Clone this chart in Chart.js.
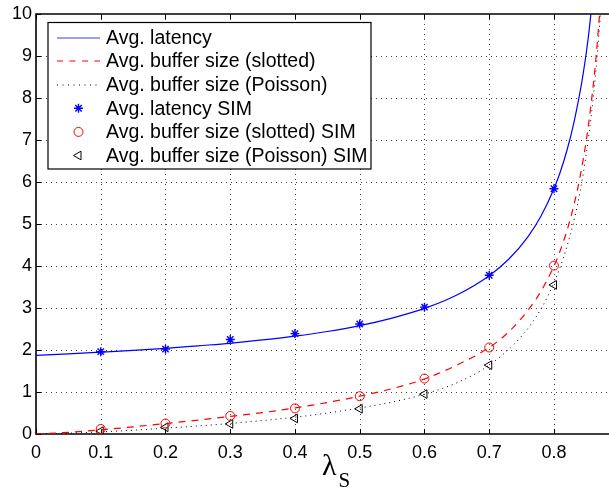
<!DOCTYPE html>
<html><head><meta charset="utf-8">
<script src="https://cdn.jsdelivr.net/npm/chart.js@4.4.0/dist/chart.umd.min.js"></script>
<style>html,body{margin:0;padding:0;background:#fff;overflow:hidden;}</style>
</head><body>
<canvas id="c" width="609" height="493"></canvas>
<script>
// ---- data ----
const latX = [0, 0.05, 0.1, 0.15, 0.2, 0.25, 0.3, 0.35, 0.4, 0.45, 0.5, 0.55, 0.6, 0.65, 0.7, 0.73, 0.76, 0.78, 0.8, 0.81, 0.82, 0.83, 0.84, 0.845, 0.85, 0.854, 0.857];
const latY = [1.87, 1.91, 1.95, 1.99, 2.04, 2.10, 2.16, 2.24, 2.33, 2.44, 2.58, 2.76, 2.99, 3.31, 3.77, 4.16, 4.70, 5.19, 5.84, 6.25, 6.75, 7.36, 8.12, 8.57, 9.09, 9.57, 10.0];
const sloX = [0, 0.05, 0.1, 0.15, 0.2, 0.25, 0.3, 0.35, 0.4, 0.45, 0.5, 0.55, 0.6, 0.65, 0.7, 0.73, 0.76, 0.78, 0.8, 0.81, 0.82, 0.83, 0.84, 0.85, 0.86, 0.865, 0.8705];
const sloY = [0, 0.04, 0.1, 0.17, 0.25, 0.33, 0.42, 0.51, 0.62, 0.75, 0.9, 1.08, 1.31, 1.64, 2.06, 2.43, 2.95, 3.40, 4.0, 4.38, 4.84, 5.40, 6.10, 7.0, 8.21, 8.97, 10.0];
const poiX = [0, 0.05, 0.1, 0.15, 0.2, 0.25, 0.3, 0.35, 0.4, 0.45, 0.5, 0.55, 0.6, 0.65, 0.7, 0.75, 0.78, 0.8, 0.81, 0.82, 0.83, 0.84, 0.85, 0.86, 0.865, 0.87, 0.8717];
const poiY = [0, 0.02, 0.05, 0.09, 0.14, 0.19, 0.25, 0.32, 0.4, 0.5, 0.62, 0.76, 0.95, 1.22, 1.64, 2.33, 2.98, 3.6, 3.99, 4.46, 5.03, 5.75, 6.68, 7.91, 8.69, 9.63, 10.0];
const simX = [0.1, 0.2, 0.3, 0.4, 0.5, 0.6, 0.7, 0.8];
const latSim = [1.96, 2.02, 2.25, 2.39, 2.62, 3.02, 3.78, 5.84];
const sloSim = [0.12, 0.25, 0.43, 0.61, 0.9, 1.32, 2.06, 4.01];
const poiSim = [0.07, 0.16, 0.24, 0.37, 0.6, 0.95, 1.64, 3.55];
const xTicks = [0, 0.1, 0.2, 0.3, 0.4, 0.5, 0.6, 0.7, 0.8];
const yTicks = [0, 1, 2, 3, 4, 5, 6, 7, 8, 9, 10];
const legendLabels = ['Avg. latency', 'Avg. buffer size (slotted)', 'Avg. buffer size (Poisson)', 'Avg. latency SIM', 'Avg. buffer size (slotted) SIM', 'Avg. buffer size (Poisson) SIM'];

const pts = (xs, ys) => xs.map((x, i) => ({x: x, y: ys[i]}));

const datasets = [
  {label: legendLabels[0], data: pts(latX, latY), borderColor: '#0000ff', borderWidth: 1.2, pointRadius: 0, cubicInterpolationMode: 'monotone', fill: false},
  {label: legendLabels[1], data: pts(sloX, sloY), borderColor: '#ff0000', borderWidth: 1.2, borderDash: [7, 6], pointRadius: 0, cubicInterpolationMode: 'monotone', fill: false},
  {label: legendLabels[2], data: pts(poiX, poiY), borderColor: '#000000', borderWidth: 1, borderDash: [1, 4], pointRadius: 0, cubicInterpolationMode: 'monotone', fill: false},
  {label: legendLabels[3], data: pts(simX, latSim), showLine: false, pointStyle: 'star', pointRadius: 4.5, borderColor: '#0000ff', backgroundColor: '#0000ff', pointBorderWidth: 1.4},
  {label: legendLabels[4], data: pts(simX, sloSim), showLine: false, pointStyle: 'circle', pointRadius: 4.5, borderColor: '#ff0000', backgroundColor: 'rgba(0,0,0,0)', pointBorderWidth: 1},
  {label: legendLabels[5], data: pts(simX, poiSim), showLine: false, pointStyle: 'triangle', pointRotation: -90, pointRadius: 5, borderColor: '#000000', backgroundColor: 'rgba(0,0,0,0)', pointBorderWidth: 1}
];

const frame = {
  id: 'frame',
  beforeDatasetsDraw(chart) {
    const {ctx, chartArea: a, scales: {x, y}} = chart;
    const W = chart.width;
    ctx.save();
    ctx.strokeStyle = 'rgba(0,0,0,0.75)';
    ctx.lineWidth = 1;
    ctx.setLineDash([1, 4]);
    xTicks.forEach(v => { if (v === 0) return; const px = Math.round(x.getPixelForValue(v)) + 0.5; ctx.beginPath(); ctx.moveTo(px, a.top); ctx.lineTo(px, a.bottom); ctx.stroke(); });
    yTicks.forEach(v => { if (v === 0 || v === 10) return; const py = Math.round(y.getPixelForValue(v)) + 0.5; ctx.beginPath(); ctx.moveTo(a.left, py); ctx.lineTo(W, py); ctx.stroke(); });
    ctx.setLineDash([]);
    ctx.strokeStyle = '#000';
    ctx.lineWidth = 1;
    xTicks.forEach(v => { const px = Math.round(x.getPixelForValue(v)) + 0.5; ctx.beginPath(); ctx.moveTo(px, a.bottom); ctx.lineTo(px, a.bottom - 5); ctx.moveTo(px, a.top); ctx.lineTo(px, a.top + 5); ctx.stroke(); });
    yTicks.forEach(v => { const py = Math.round(y.getPixelForValue(v)) + 0.5; ctx.beginPath(); ctx.moveTo(a.left, py); ctx.lineTo(a.left + 5, py); ctx.stroke(); });
    ctx.lineWidth = 1.6;
    ctx.beginPath();
    ctx.moveTo(W, a.top); ctx.lineTo(a.left, a.top); ctx.lineTo(a.left, a.bottom); ctx.lineTo(W, a.bottom);
    ctx.stroke();
    ctx.restore();
  },
  afterDraw(chart) {
    const {ctx, chartArea: a, scales: {x}} = chart;
    ctx.save();
    // axis title lambda_S
    const cx = x.getPixelForValue(0.44);
    ctx.fillStyle = '#000';
    ctx.textBaseline = 'alphabetic';
    ctx.textAlign = 'left';
    ctx.font = '30px "Liberation Serif"';
    ctx.fillText('λ', cx + 1, a.bottom + 41);
    ctx.font = '21px "Liberation Serif"';
    ctx.fillText('S', cx + 17.5, a.bottom + 53);
    // legend
    const lx = 48, ly = 22.5, lw = 323, lh = 146.5;
    ctx.fillStyle = '#fff';
    ctx.fillRect(lx, ly, lw, lh);
    ctx.strokeStyle = '#000';
    ctx.lineWidth = 1.2;
    ctx.strokeRect(lx, ly, lw, lh);
    ctx.font = '19.5px "Liberation Sans", Arial, sans-serif';
    ctx.textBaseline = 'middle';
    datasets.forEach((d, i) => {
      const ry = 37.5 + i * 23.6;
      ctx.save();
      if (i < 3) {
        ctx.strokeStyle = i === 0 ? '#3a3aff' : d.borderColor;
        ctx.lineWidth = d.borderWidth;
        ctx.setLineDash(i === 1 ? [6, 6.5] : (i === 2 ? [1, 4.5] : []));
        ctx.beginPath(); ctx.moveTo(57, Math.round(ry)); ctx.lineTo(100, Math.round(ry)); ctx.stroke();
      } else {
        ctx.strokeStyle = d.borderColor;
        ctx.fillStyle = d.backgroundColor;
        ctx.lineWidth = d.pointBorderWidth;
        Chart.helpers.drawPoint(ctx, {pointStyle: d.pointStyle, radius: d.pointRadius, rotation: d.pointRotation || 0, borderWidth: d.pointBorderWidth}, 78.5, ry);
      }
      ctx.restore();
      ctx.fillStyle = '#000';
      ctx.fillText(d.label, 106, ry + 1);
    });
    ctx.restore();
  }
};

new Chart(document.getElementById('c'), {
  type: 'line',
  data: {datasets: datasets},
  options: {
    responsive: false,
    animation: false,
    devicePixelRatio: 1,
    layout: {autoPadding: false, padding: {top: 14, right: 0, left: 0, bottom: 0}},
    plugins: {legend: {display: false}, tooltip: {enabled: false}},
    scales: {
      x: {
        type: 'linear', min: 0, max: 0.885,
        grid: {display: false, drawTicks: false},
        border: {display: false},
        afterBuildTicks: s => { s.ticks = xTicks.map(v => ({value: v})); },
        afterFit: s => { s.height = 59; s.paddingLeft = 0; s.paddingRight = 0; },
        ticks: {color: '#000', padding: 8, maxRotation: 0, autoSkip: false, font: {family: '"Liberation Sans", Arial, sans-serif', size: 18}, callback: v => String(Number(v.toFixed(1)))}
      },
      y: {
        type: 'linear', min: 0, max: 10,
        grid: {display: false, drawTicks: false},
        border: {display: false},
        afterBuildTicks: s => { s.ticks = yTicks.map(v => ({value: v})); },
        afterFit: s => { s.width = 36; s.paddingTop = 0; s.paddingBottom = 0; },
        ticks: {color: '#000', padding: 4, autoSkip: false, font: {family: '"Liberation Sans", Arial, sans-serif', size: 18}}
      }
    }
  },
  plugins: [frame]
});
</script>
</body></html>
